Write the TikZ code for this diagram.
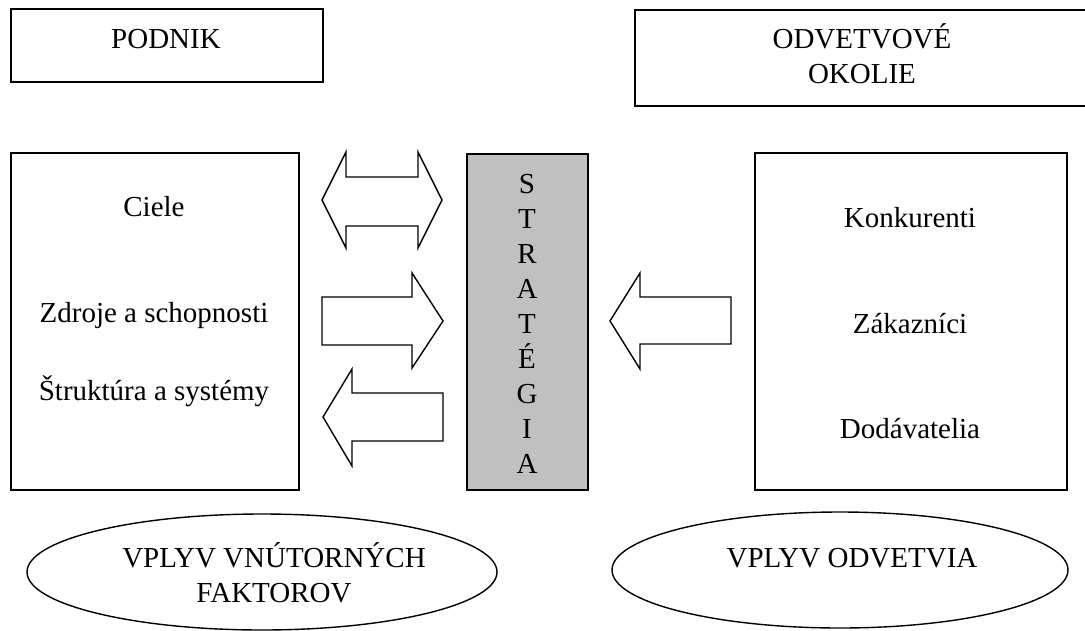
\documentclass[tikz,border=0pt]{standalone}
\usepackage{fontspec}
\setmainfont{Liberation Serif}
\usetikzlibrary{shapes.geometric}
\definecolor{stratgray}{HTML}{C0C0C0}
\begin{document}
\begin{tikzpicture}[x=1pt,y=-1pt,
  frame/.style={draw, line width=1.8pt, inner sep=0pt, anchor=north west},
  txt/.style={font=\fontsize{29}{35}\selectfont, inner sep=0pt, anchor=base, align=center},
  oval/.style={draw, ellipse, line width=1.4pt, inner sep=0pt},
  blockarrow/.style={draw, line width=1.4pt, line join=miter, fill=white}]
\useasboundingbox (0,0) rectangle (1085,630);
\clip (0,0) rectangle (1085,630);
% top boxes
\node[frame, minimum width=312pt, minimum height=73pt] (podnik) at (10,8) {};
\node[frame, minimum width=460pt, minimum height=96pt] (okolie) at (634,9) {};
\node[txt] (tpodnik) at (166,48) {PODNIK};
\node[txt] (tokolie) at (862,83) {ODVETVOVÉ\\OKOLIE};
% main boxes
\node[frame, minimum width=288pt, minimum height=337pt] (leftbox) at (10,152) {};
\node[frame, fill=stratgray, minimum width=121pt, minimum height=336pt] (strat) at (466,153) {};
\node[frame, minimum width=312pt, minimum height=337pt] (rightbox) at (754,152) {};
% left texts
\node[txt] (ciele) at (154,216) {Ciele};
\node[txt] (zdroje) at (154,322) {Zdroje a schopnosti};
\node[txt] (struktura) at (154,400) {Štruktúra a systémy};
% right texts
\node[txt] (konk) at (910,227) {Konkurenti};
\node[txt] (zak) at (910,333) {Zákazníci};
\node[txt] (dod) at (910,438) {Dodávatelia};
% strategy letters
\node[txt] (tstrat) at (527,473) {S\\T\\R\\A\\T\\É\\G\\I\\A};
% block arrows
\draw[blockarrow] (322,200) -- (346,152) -- (346,177) -- (418,177) -- (418,152) -- (442,200)
  -- (418,248) -- (418,226) -- (346,226) -- (346,248) -- cycle;
\draw[blockarrow] (322,297) -- (412,297) -- (412,273) -- (443,321) -- (412,368)
  -- (412,345) -- (322,345) -- cycle;
\draw[blockarrow] (323,417) -- (352,369) -- (352,393) -- (443,393) -- (443,441)
  -- (352,441) -- (352,466) -- cycle;
\draw[blockarrow] (610,321) -- (640,273) -- (640,297) -- (731,297) -- (731,344)
  -- (640,344) -- (640,369) -- cycle;
% ellipses
\node[oval, minimum width=470pt, minimum height=116pt] (vnut) at (262,572) {};
\node[oval, minimum width=456pt, minimum height=116pt] (odv) at (840,570) {};
\node[txt] (tvnut) at (274,602) {VPLYV VNÚTORNÝCH\\FAKTOROV};
\node[txt] (todv) at (852,567) {VPLYV ODVETVIA};
\end{tikzpicture}
\end{document}
